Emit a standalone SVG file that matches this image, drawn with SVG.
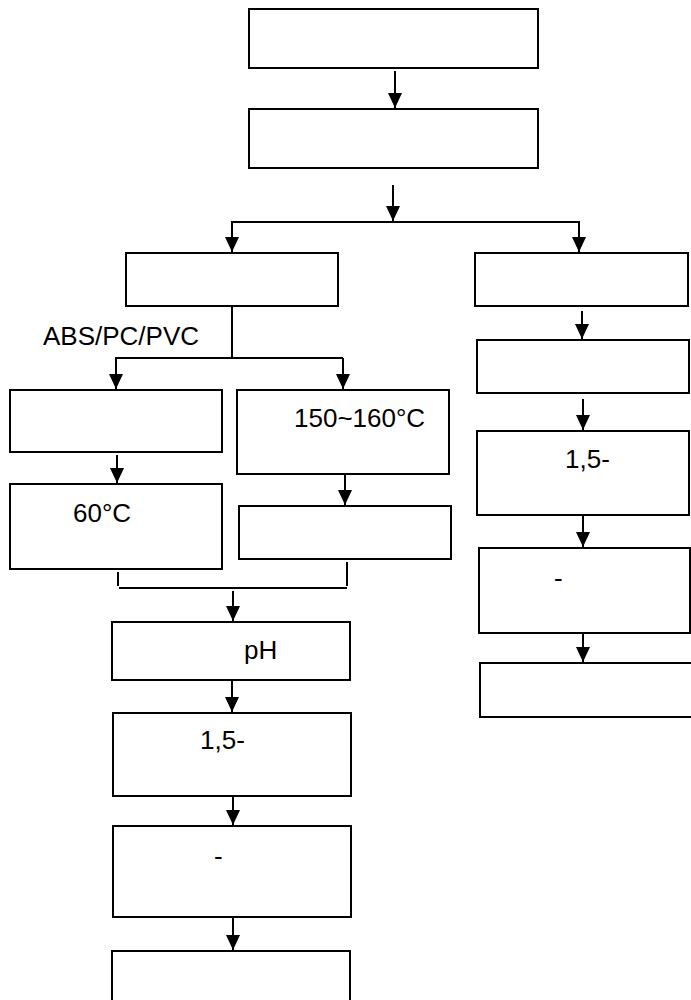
<svg xmlns="http://www.w3.org/2000/svg" width="691" height="1000" viewBox="0 0 691 1000">
<style>
.box{fill:#fff;stroke:#000;stroke-width:2}
.ln{fill:none;stroke:#000;stroke-width:2}
.ar{fill:none;stroke:#000;stroke-width:2;marker-end:url(#ah)}
text{font-family:"Liberation Sans",Arial,sans-serif;font-size:26px;fill:#000}
</style>
<defs>
<marker id="ah" viewBox="0 0 15 14" refX="15" refY="7" markerWidth="15" markerHeight="14" markerUnits="userSpaceOnUse" orient="auto">
<path d="M0,0 L15,7 L0,14 z" fill="#000"/>
</marker>
</defs>
<rect width="691" height="1000" fill="#fff"/>
<g id="n1"><rect class="box" x="249" y="9" width="289" height="59"/></g>
<g id="n2"><rect class="box" x="249" y="109" width="289" height="59"/></g>
<g id="nA"><rect class="box" x="126" y="253" width="212" height="53"/></g>
<g id="nB"><rect class="box" x="10" y="390" width="212" height="62"/></g>
<g id="nC"><rect class="box" x="237" y="390" width="212" height="84"/><text x="294" y="427">150~160°C</text></g>
<g id="nD"><rect class="box" x="10" y="484" width="212" height="85"/><text x="73" y="522">60°C</text></g>
<g id="nE"><rect class="box" x="239" y="506" width="212" height="53"/></g>
<g id="nF"><rect class="box" x="112" y="622" width="238" height="58"/><text x="244" y="659">pH</text></g>
<g id="nG"><rect class="box" x="113" y="713" width="238" height="83"/><text x="200" y="749">1,5-</text></g>
<g id="nH"><rect class="box" x="113" y="826" width="238" height="91"/><text x="214" y="865">-</text></g>
<g id="nI"><rect class="box" x="112" y="951" width="238" height="60"/></g>
<g id="nJ"><rect class="box" x="475" y="253" width="213" height="53"/></g>
<g id="nK"><rect class="box" x="477" y="340" width="212" height="53"/></g>
<g id="nL"><rect class="box" x="477" y="431" width="212" height="84"/><text x="565" y="468">1,5-</text></g>
<g id="nM"><rect class="box" x="479" y="548" width="211" height="85"/><text x="554" y="587">-</text></g>
<g id="nN"><rect class="box" x="480" y="663" width="220" height="54"/></g>
<g id="label"><text x="43" y="345">ABS/PC/PVC</text></g>
<g id="connectors">
<path class="ar" d="M395,71 V108"/>
<path class="ar" d="M393,185 V221"/>
<path class="ln" d="M232,252 V222 H579 V240"/>
<path class="ar" d="M232,222 V252"/>
<path class="ar" d="M579,222 V252"/>
<path class="ln" d="M232,306 V358"/>
<path class="ln" d="M115,358 H343"/>
<path class="ar" d="M116,358 V389"/>
<path class="ar" d="M343,358 V389"/>
<path class="ar" d="M117,455 V483"/>
<path class="ar" d="M345,474 V505"/>
<path class="ln" d="M118,572 V586"/>
<path class="ln" d="M347,562 V586"/>
<path class="ln" d="M119,588 H347"/>
<path class="ar" d="M233,591 V621"/>
<path class="ar" d="M232,680 V712"/>
<path class="ar" d="M233,796 V825"/>
<path class="ar" d="M233,917 V950"/>
<path class="ar" d="M582,311 V339"/>
<path class="ar" d="M583,399 V430"/>
<path class="ar" d="M583,515 V547"/>
<path class="ar" d="M583,633 V662"/>
</g>
</svg>
